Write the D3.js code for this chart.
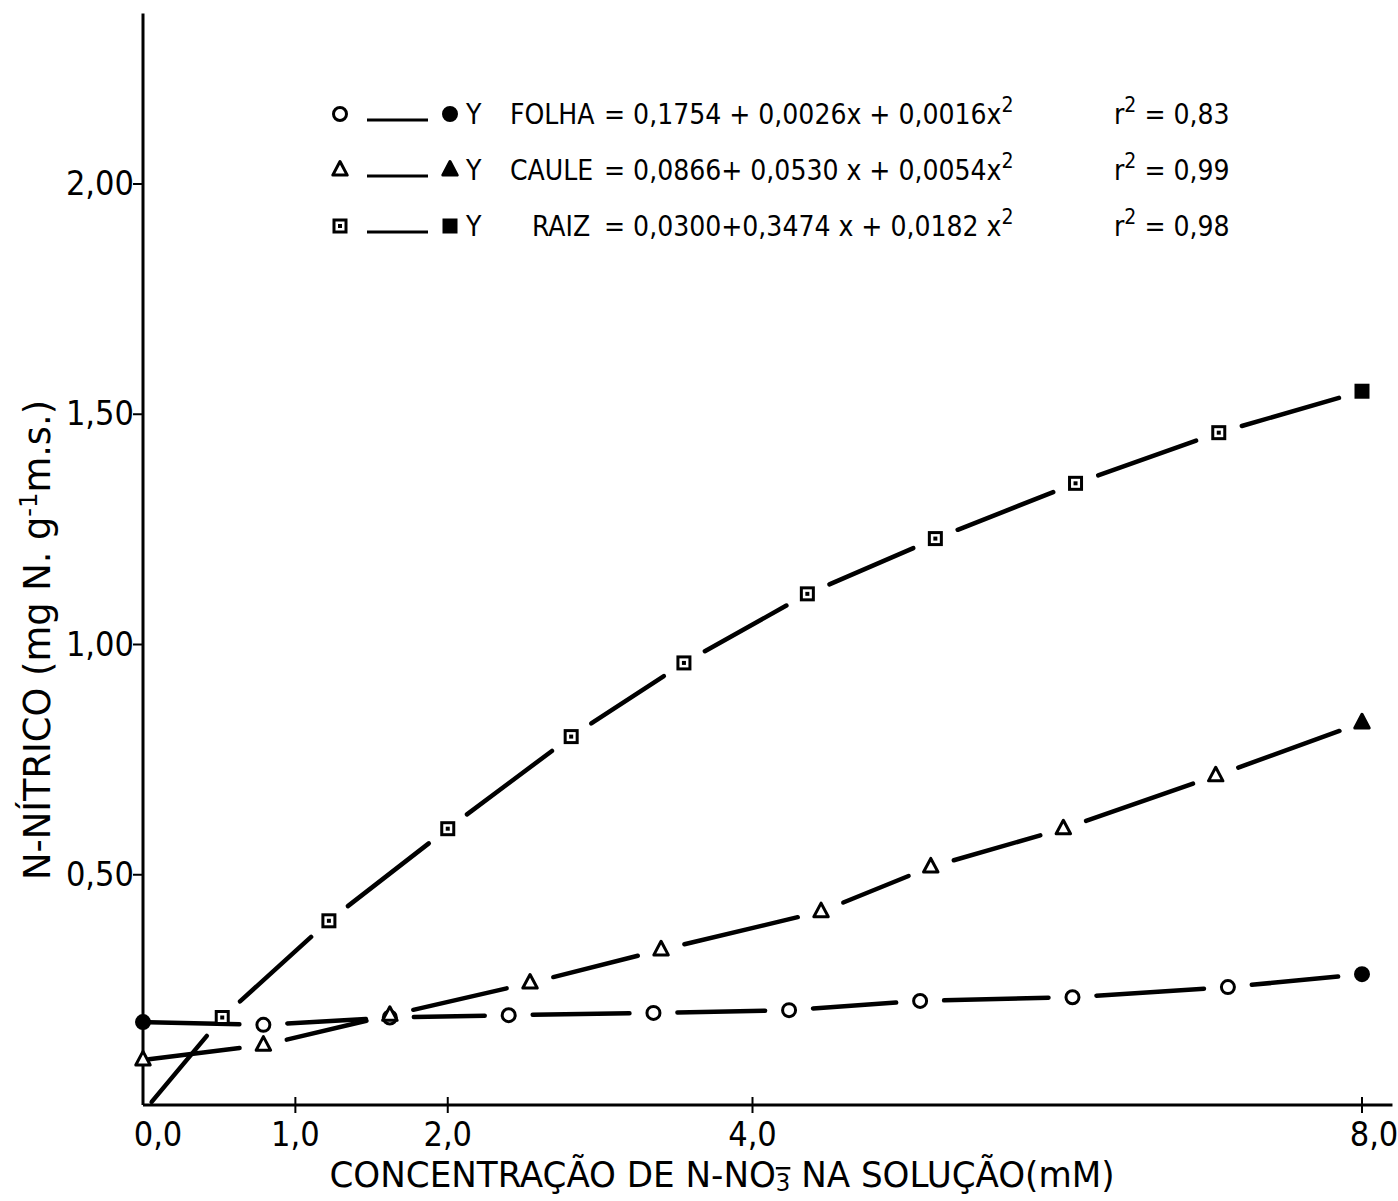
<!DOCTYPE html>
<html>
<head>
<meta charset="utf-8">
<script src="https://cdn.jsdelivr.net/npm/d3@7"></script>
<style>
  body { margin: 0; background: #fff; }
  text { font-family: 'DejaVu Sans Condensed', 'DejaVu Sans', sans-serif; font-stretch: condensed; fill: #000; }
</style>
</head>
<body>
<script>
// values (x in mM, y in mg N g-1 m.s.)
const folhaX = [0, 0.79, 1.62, 2.40, 3.35, 4.24, 5.10, 6.10, 7.12, 8.0]
const folhaY = [0.180, 0.174, 0.190, 0.195, 0.200, 0.206, 0.226, 0.234, 0.256, 0.284]
const cauleX = [0, 0.79, 1.62, 2.54, 3.40, 4.45, 5.17, 6.04, 7.04, 8.0]
const cauleY = [0.098, 0.130, 0.195, 0.265, 0.337, 0.420, 0.517, 0.600, 0.715, 0.830]
const raizX = [0.04, 0.52, 1.22, 2.0, 2.81, 3.55, 4.36, 5.20, 6.12, 7.06, 8.0]
const raizY = [0.0, 0.19, 0.40, 0.60, 0.80, 0.96, 1.11, 1.23, 1.35, 1.46, 1.55]

const xTicks = [0, 1, 2, 4, 8]
const xTickLabels = ['0,0', '1,0', '2,0', '4,0', '8,0']
const yTicks = [0.5, 1.0, 1.5, 2.0]
const yTickLabels = ['0,50', '1,00', '1,50', '2,00']

const legendRows = [
  { key: 'folha', name: 'FOLHA', eq: '= 0,1754 + 0,0026x  + 0,0016x', r2: '= 0,83' },
  { key: 'caule', name: 'CAULE', eq: '= 0,0866+ 0,0530 x  + 0,0054x', r2: '= 0,99' },
  { key: 'raiz', name: 'RAIZ', eq: '= 0,0300+0,3474 x  + 0,0182 x', r2: '= 0,98' }
]

const width = 1398
const height = 1201

const svg = d3.select('body').append('svg')
  .attr('width', width)
  .attr('height', height)
  .attr('viewBox', [0, 0, width, height])

const x = d3.scaleLinear().domain([0, 8]).range([143, 1362])
const y = d3.scaleLinear().domain([0, 2]).range([1105, 184])

// axes
svg.append('line')
  .attr('x1', x(0)).attr('x2', x(8.2))
  .attr('y1', y(0)).attr('y2', y(0))
  .attr('stroke', '#000').attr('stroke-width', 3)

svg.append('line')
  .attr('x1', x(0)).attr('x2', x(0))
  .attr('y1', y(0)).attr('y2', y(2.37))
  .attr('stroke', '#000').attr('stroke-width', 3)

svg.append('g').selectAll('line')
  .data(yTicks)
  .join('line')
    .attr('x1', x(0) - 10).attr('x2', x(0))
    .attr('y1', d => y(d)).attr('y2', d => y(d))
    .attr('stroke', '#000').attr('stroke-width', 2)

svg.append('g').selectAll('text')
  .data(yTicks)
  .join('text')
    .attr('x', x(0) - 9)
    .attr('y', d => y(d) + 11)
    .attr('text-anchor', 'end')
    .attr('font-size', 34)
    .text((d, i) => yTickLabels[i])

svg.append('g').selectAll('line')
  .data(xTicks.slice(1))
  .join('line')
    .attr('x1', d => x(d)).attr('x2', d => x(d))
    .attr('y1', y(0) - 8).attr('y2', y(0) + 8)
    .attr('stroke', '#000').attr('stroke-width', 2)

svg.append('g').selectAll('text')
  .data(xTicks)
  .join('text')
    .attr('x', d => d === 0 ? x(d) + 15 : (d === 8 ? x(d) + 12 : x(d)))
    .attr('y', 1146)
    .attr('text-anchor', 'middle')
    .attr('font-size', 34)
    .text((d, i) => xTickLabels[i])

// axis titles
const xTitle = svg.append('text')
  .attr('x', 722)
  .attr('y', 1187)
  .attr('text-anchor', 'middle')
  .attr('font-size', 36)
  .attr('textLength', 785)
  .attr('lengthAdjust', 'spacingAndGlyphs')
xTitle.append('tspan').text('CONCENTRAÇÃO DE N-NO')
xTitle.append('tspan').attr('dy', 4).attr('font-size', 24).attr('text-decoration', 'overline').text('3')
xTitle.append('tspan').attr('dy', -4).text(' NA SOLUÇÃO(mM)')

const yTitle = svg.append('text')
  .attr('transform', 'translate(50,640) rotate(-90)')
  .attr('text-anchor', 'middle')
  .attr('font-size', 38)
  .attr('textLength', 480)
  .attr('lengthAdjust', 'spacingAndGlyphs')
yTitle.append('tspan').text('N-NÍTRICO  (mg N. g')
yTitle.append('tspan').attr('dy', -13).attr('font-size', 25).text('-1')
yTitle.append('tspan').attr('dy', 13).text('m.s.)')

// series
const series = [
  { key: 'folha', xs: folhaX, ys: folhaY, first: 0 },
  { key: 'caule', xs: cauleX, ys: cauleY, first: 0 },
  { key: 'raiz', xs: raizX, ys: raizY, first: 1 }
]

const gap = 24
const segments = (s) => {
  const pts = s.xs.map((v, i) => [x(v), y(s.ys[i])])
  return d3.pairs(pts).map(([a, b], i) => {
    const dx = b[0] - a[0]
    const dy = b[1] - a[1]
    const len = Math.hypot(dx, dy)
    const g0 = (i === 0 && s.first === 1) ? 4 : (i === 0 ? 6 : gap)
    return [a[0] + dx * g0 / len, a[1] + dy * g0 / len, b[0] - dx * gap / len, b[1] - dy * gap / len]
  })
}

const drawMarker = (g, key, cx, cy, filled) => {
  const fill = filled ? '#000' : '#fff'
  if (key === 'folha') {
    g.append('circle').attr('cx', cx).attr('cy', cy).attr('r', 6.5)
      .attr('fill', fill).attr('stroke', '#000').attr('stroke-width', 3)
  } else if (key === 'caule') {
    const r = 8.5
    g.append('path')
      .attr('d', `M${cx},${cy - r} L${cx + r * 0.85},${cy + r * 0.6} L${cx - r * 0.85},${cy + r * 0.6} Z`)
      .attr('fill', fill).attr('stroke', '#000').attr('stroke-width', 3)
      .attr('stroke-linejoin', 'round')
  } else {
    g.append('rect').attr('x', cx - 6).attr('y', cy - 6).attr('width', 12).attr('height', 12)
      .attr('fill', fill).attr('stroke', '#000').attr('stroke-width', 3)
    if (!filled) {
      g.append('rect').attr('x', cx - 2).attr('y', cy - 2).attr('width', 4).attr('height', 4).attr('fill', '#000')
    }
  }
}

series.forEach(s => {
  const g = svg.append('g')
  g.selectAll('line')
    .data(segments(s))
    .join('line')
      .attr('x1', d => d[0]).attr('y1', d => d[1])
      .attr('x2', d => d[2]).attr('y2', d => d[3])
      .attr('stroke', '#000').attr('stroke-width', 4.5)
      .attr('stroke-linecap', 'round')
  s.xs.forEach((v, i) => {
    if (i < s.first) return
    drawMarker(g, s.key, x(v), y(s.ys[i]), i === s.xs.length - 1 || (s.key === 'folha' && i === 0))
  })
})

// legend
const legend = svg.append('g').attr('font-size', 28)
legendRows.forEach((row, i) => {
  const cy = 114 + i * 56
  drawMarker(legend, row.key, 340, cy, false)
  legend.append('line')
    .attr('x1', 367).attr('x2', 428).attr('y1', cy + 6).attr('y2', cy + 6)
    .attr('stroke', '#000').attr('stroke-width', 3)
  drawMarker(legend, row.key, 450, cy, true)
  legend.append('text').attr('x', 466).attr('y', cy + 10).text('Y')
  legend.append('text').attr('x', row.key === 'raiz' ? 532 : 510).attr('y', cy + 10).text(row.name)
  const eq = legend.append('text').attr('x', 604).attr('y', cy + 10)
  eq.append('tspan').text(row.eq)
  eq.append('tspan').attr('dy', -12).attr('font-size', 21).text('2')
  const r = legend.append('text').attr('x', 1114).attr('y', cy + 10)
  r.append('tspan').text('r')
  r.append('tspan').attr('dy', -12).attr('font-size', 21).text('2')
  r.append('tspan').attr('dy', 12).text(' ' + row.r2)
})
</script>
</body>
</html>
